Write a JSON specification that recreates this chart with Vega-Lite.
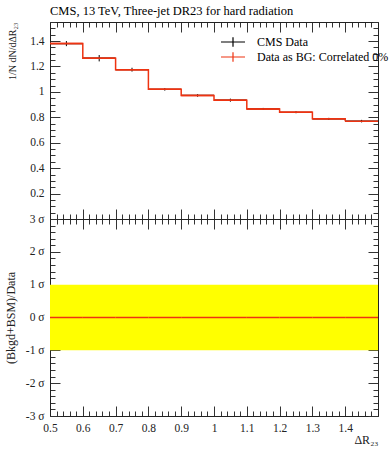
{
  "$schema": "https://vega.github.io/schema/vega-lite/v6.json",
  "padding": {"left": 4, "top": 4, "right": 0, "bottom": 0},
  "spacing": 0,
  "bounds": "flush",
  "datasets": {
    "bins": [
      {"lo": 0.5, "hi": 0.6, "mid": 0.55, "val": 1.38, "elo": 1.36, "ehi": 1.4, "dev": 0},
      {"lo": 0.6, "hi": 0.7, "mid": 0.65, "val": 1.265, "elo": 1.24, "ehi": 1.29, "dev": 0},
      {"lo": 0.7, "hi": 0.8, "mid": 0.75, "val": 1.175, "elo": 1.16, "ehi": 1.19, "dev": 0},
      {"lo": 0.8, "hi": 0.9, "mid": 0.85, "val": 1.02, "elo": 1.01, "ehi": 1.03, "dev": 0},
      {"lo": 0.9, "hi": 1.0, "mid": 0.95, "val": 0.972, "elo": 0.962, "ehi": 0.982, "dev": 0},
      {"lo": 1.0, "hi": 1.1, "mid": 1.05, "val": 0.935, "elo": 0.923, "ehi": 0.947, "dev": 0},
      {"lo": 1.1, "hi": 1.2, "mid": 1.15, "val": 0.866, "elo": 0.858, "ehi": 0.874, "dev": 0},
      {"lo": 1.2, "hi": 1.3, "mid": 1.25, "val": 0.84, "elo": 0.832, "ehi": 0.848, "dev": 0},
      {"lo": 1.3, "hi": 1.4, "mid": 1.35, "val": 0.788, "elo": 0.78, "ehi": 0.796, "dev": 0},
      {"lo": 1.4, "hi": 1.5, "mid": 1.45, "val": 0.77, "elo": 0.76, "ehi": 0.78, "dev": 0}
    ],
    "band": [
      {"x0": 0.5, "x1": 1.5, "b0": -1, "b1": 1}
    ]
  },
  "vconcat": [
    {
      "width": 328,
      "height": 197,
      "title": {
        "text": "CMS, 13 TeV, Three-jet DR23 for hard radiation",
        "anchor": "start",
        "frame": "group",
        "font": "Liberation Serif",
        "fontSize": 12.5,
        "fontWeight": "normal",
        "offset": -1
      },
      "layer": [
        {
          "data": {"name": "bins"},
          "mark": {"type": "rule", "strokeWidth": 1.2},
          "encoding": {
            "x": {
              "field": "lo", "type": "quantitative",
              "scale": {"domain": [0.5, 1.5], "nice": false, "zero": false},
              "axis": {
                "orient": "bottom", "title": null, "labels": false,
                "values": [0.5,0.52,0.54,0.56,0.58,0.6,0.62,0.64,0.66,0.68,0.7,0.72,0.74,0.76,0.78,0.8,0.82,0.84,0.86,0.88,0.9,0.92,0.94,0.96,0.98,1.0,1.02,1.04,1.06,1.08,1.1,1.12,1.14,1.16,1.18,1.2,1.22,1.24,1.26,1.28,1.3,1.32,1.34,1.36,1.38,1.4,1.42,1.44,1.46,1.48,1.5],
                "tickSize": {"condition": {"test": "abs(datum.value*10-round(datum.value*10))<0.001", "value": -10}, "value": -5}
              }
            },
            "x2": {"field": "hi"},
            "y": {
              "field": "val", "type": "quantitative",
              "scale": {"domain": [0, 1.55], "nice": false, "zero": false},
              "axis": {
                "orient": "left",
                "title": "1/N dN/dΔR₂₃",
                "titleAnchor": "end",
                "titleFontSize": 10,
                "titlePadding": 12,
                "values": [0,0.05,0.1,0.15,0.2,0.25,0.3,0.35,0.4,0.45,0.5,0.55,0.6,0.65,0.7,0.75,0.8,0.85,0.9,0.95,1.0,1.05,1.1,1.15,1.2,1.25,1.3,1.35,1.4,1.45,1.5,1.55],
                "labelExpr": "abs(datum.value*5-round(datum.value*5))<0.001 && datum.value>0.01 ? toString(round(datum.value*10)/10) : ''",
                "tickSize": {"condition": {"test": "abs(datum.value*5-round(datum.value*5))<0.001", "value": -10}, "value": -5}
              }
            },
            "color": {
              "datum": "CMS Data",
              "type": "nominal",
              "scale": {"domain": ["CMS Data", "Data as BG: Correlated 0%"], "range": ["#000000", "#ee3311"]},
              "legend": {
                "orient": "none",
                "legendX": 177,
                "legendY": 14,
                "title": null,
                "symbolType": "M-4,0H4M0,-1.6V1.6",
                "symbolSize": 36,
                "symbolStrokeWidth": 1.2,
                "labelFont": "Liberation Serif",
                "labelFontSize": 12,
                "labelOffset": 18,
                "rowPadding": -1,
                "labelLimit": 300
              }
            }
          }
        },
        {
          "data": {"name": "bins"},
          "mark": {"type": "rule", "strokeWidth": 1},
          "encoding": {
            "x": {
              "field": "mid", "type": "quantitative",
              "scale": {"domain": [0.5, 1.5], "nice": false, "zero": false},
              "axis": {
                "orient": "top", "title": null, "labels": false,
                "values": [0.5,0.52,0.54,0.56,0.58,0.6,0.62,0.64,0.66,0.68,0.7,0.72,0.74,0.76,0.78,0.8,0.82,0.84,0.86,0.88,0.9,0.92,0.94,0.96,0.98,1.0,1.02,1.04,1.06,1.08,1.1,1.12,1.14,1.16,1.18,1.2,1.22,1.24,1.26,1.28,1.3,1.32,1.34,1.36,1.38,1.4,1.42,1.44,1.46,1.48,1.5],
                "tickSize": {"condition": {"test": "abs(datum.value*10-round(datum.value*10))<0.001", "value": -10}, "value": -5}
              }
            },
            "y": {
              "field": "elo", "type": "quantitative",
              "scale": {"domain": [0, 1.55], "nice": false, "zero": false},
              "axis": {
                "orient": "right", "title": null, "labels": false,
                "values": [0,0.05,0.1,0.15,0.2,0.25,0.3,0.35,0.4,0.45,0.5,0.55,0.6,0.65,0.7,0.75,0.8,0.85,0.9,0.95,1.0,1.05,1.1,1.15,1.2,1.25,1.3,1.35,1.4,1.45,1.5,1.55],
                "tickSize": {"condition": {"test": "abs(datum.value*5-round(datum.value*5))<0.001", "value": -10}, "value": -5}
              }
            },
            "y2": {"field": "ehi"},
            "color": {"datum": "CMS Data", "type": "nominal"}
          }
        },
        {
          "data": {"name": "bins"},
          "mark": {"type": "line", "interpolate": "step-after", "strokeWidth": 1.5},
          "encoding": {
            "x": {"field": "lo", "type": "quantitative", "scale": {"domain": [0.5, 1.5], "nice": false, "zero": false}, "axis": null},
            "y": {"field": "val", "type": "quantitative", "scale": {"domain": [0, 1.55], "nice": false, "zero": false}, "axis": null},
            "color": {"datum": "Data as BG: Correlated 0%", "type": "nominal"}
          }
        },
        {
          "data": {"name": "bins"},
          "mark": {"type": "rule", "strokeWidth": 1.5},
          "encoding": {
            "x": {"field": "lo", "type": "quantitative", "scale": {"domain": [0.5, 1.5], "nice": false, "zero": false}, "axis": null},
            "x2": {"field": "hi"},
            "y": {"field": "val", "type": "quantitative", "scale": {"domain": [0, 1.55], "nice": false, "zero": false}, "axis": null},
            "color": {"datum": "Data as BG: Correlated 0%", "type": "nominal"}
          }
        }
      ],
      "resolve": {"axis": {"x": "independent", "y": "independent"}}
    },
    {
      "width": 328,
      "height": 197,
      "layer": [
        {
          "data": {"name": "band"},
          "mark": {"type": "rect", "color": "#ffff00"},
          "encoding": {
            "x": {
              "field": "x0", "type": "quantitative",
              "scale": {"domain": [0.5, 1.5], "nice": false, "zero": false},
              "axis": {
                "orient": "bottom", "title": "ΔR₂₃", "titleAnchor": "end", "titleFontSize": 12, "titleFontWeight": "normal", "titlePadding": -4,
                "values": [0.5,0.52,0.54,0.56,0.58,0.6,0.62,0.64,0.66,0.68,0.7,0.72,0.74,0.76,0.78,0.8,0.82,0.84,0.86,0.88,0.9,0.92,0.94,0.96,0.98,1.0,1.02,1.04,1.06,1.08,1.1,1.12,1.14,1.16,1.18,1.2,1.22,1.24,1.26,1.28,1.3,1.32,1.34,1.36,1.38,1.4,1.42,1.44,1.46,1.48,1.5],
                "labelExpr": "abs(datum.value*10-round(datum.value*10))<0.001 && datum.value<1.45 ? toString(round(datum.value*10)/10) : ''",
                "tickSize": {"condition": {"test": "abs(datum.value*10-round(datum.value*10))<0.001", "value": -10}, "value": -5}
              }
            },
            "x2": {"field": "x1"},
            "y": {
              "field": "b0", "type": "quantitative",
              "scale": {"domain": [-3, 3], "nice": false, "zero": false},
              "axis": {
                "orient": "left",
                "title": "(Bkgd+BSM)/Data",
                "titleFontSize": 12,
                "titleFontWeight": "normal",
                "titlePadding": 8,
                "values": [-3,-2.8,-2.6,-2.4,-2.2,-2,-1.8,-1.6,-1.4,-1.2,-1,-0.8,-0.6,-0.4,-0.2,0,0.2,0.4,0.6,0.8,1,1.2,1.4,1.6,1.8,2,2.2,2.4,2.6,2.8,3],
                "labelExpr": "abs(datum.value-round(datum.value))<0.001 ? toString(round(datum.value)) + ' σ' : ''",
                "tickSize": {"condition": {"test": "abs(datum.value-round(datum.value))<0.001", "value": -10}, "value": -5}
              }
            },
            "y2": {"field": "b1"}
          }
        },
        {
          "data": {"name": "bins"},
          "mark": {"type": "rule", "color": "#ee3311", "strokeWidth": 1.5},
          "encoding": {
            "x": {
              "field": "lo", "type": "quantitative",
              "scale": {"domain": [0.5, 1.5], "nice": false, "zero": false},
              "axis": {
                "orient": "top", "title": null, "labels": false,
                "values": [0.5,0.52,0.54,0.56,0.58,0.6,0.62,0.64,0.66,0.68,0.7,0.72,0.74,0.76,0.78,0.8,0.82,0.84,0.86,0.88,0.9,0.92,0.94,0.96,0.98,1.0,1.02,1.04,1.06,1.08,1.1,1.12,1.14,1.16,1.18,1.2,1.22,1.24,1.26,1.28,1.3,1.32,1.34,1.36,1.38,1.4,1.42,1.44,1.46,1.48,1.5],
                "tickSize": {"condition": {"test": "abs(datum.value*10-round(datum.value*10))<0.001", "value": -10}, "value": -5}
              }
            },
            "x2": {"field": "hi"},
            "y": {
              "field": "dev", "type": "quantitative",
              "scale": {"domain": [-3, 3], "nice": false, "zero": false},
              "axis": {
                "orient": "right", "title": null, "labels": false,
                "values": [-3,-2.8,-2.6,-2.4,-2.2,-2,-1.8,-1.6,-1.4,-1.2,-1,-0.8,-0.6,-0.4,-0.2,0,0.2,0.4,0.6,0.8,1,1.2,1.4,1.6,1.8,2,2.2,2.4,2.6,2.8,3],
                "tickSize": {"condition": {"test": "abs(datum.value-round(datum.value))<0.001", "value": -10}, "value": -5}
              }
            }
          }
        }
      ],
      "resolve": {"axis": {"x": "independent", "y": "independent"}}
    }
  ],
  "config": {
    "view": {"stroke": null},
    "axis": {
      "grid": false,
      "domain": true,
      "domainColor": "#222222",
      "domainWidth": 1,
      "tickColor": "#333333",
      "tickWidth": 1,
      "minExtent": 0,
      "labelFont": "Liberation Serif",
      "labelFontSize": 11.5,
      "labelColor": "#222222",
      "labelOverlap": false,
      "labelFlush": false,
      "labelBound": false,
      "labelPadding": 16,
      "titleFont": "Liberation Serif",
      "titleColor": "#222222",
      "titleFontWeight": "normal",
      "zindex": 1
    }
  }
}
